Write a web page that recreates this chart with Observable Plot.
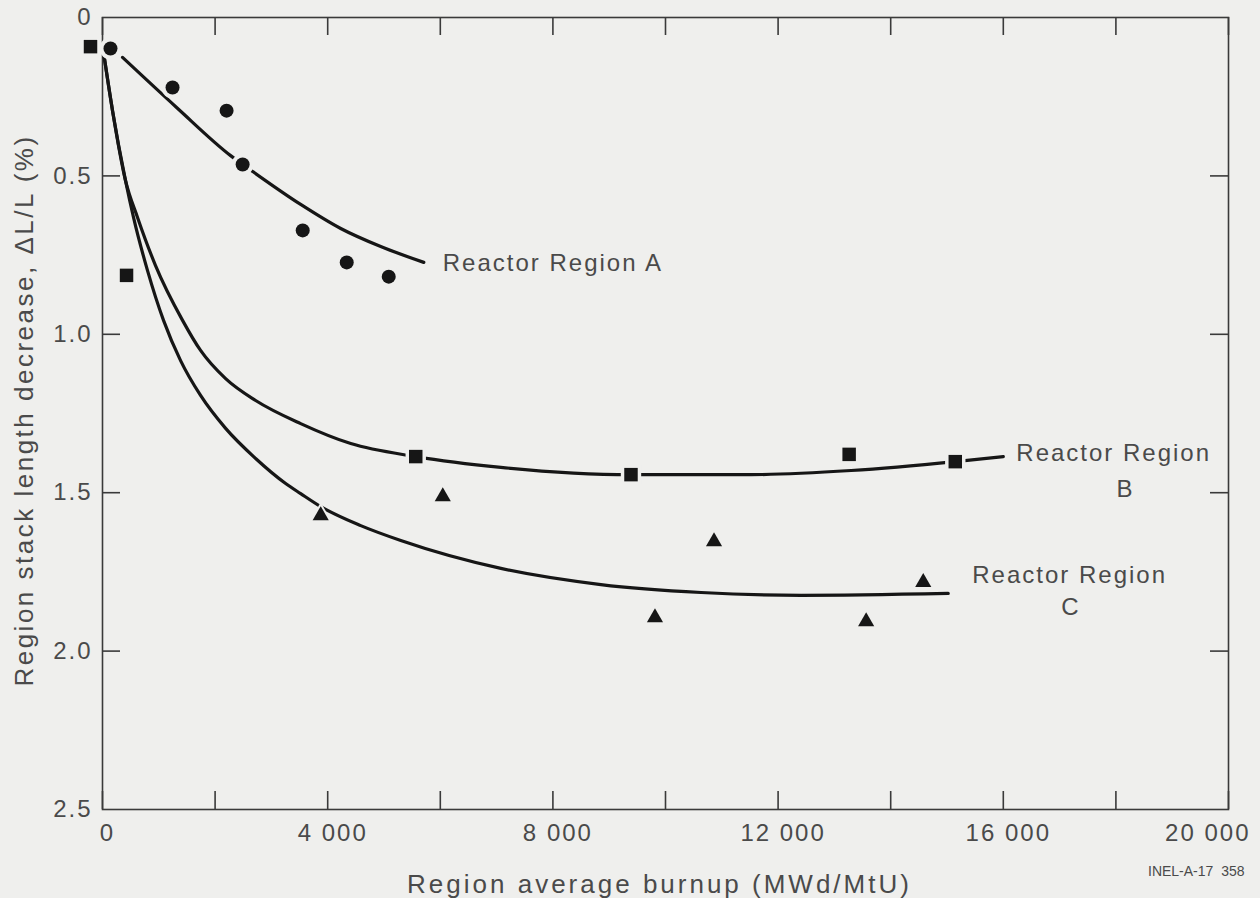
<!DOCTYPE html>
<html>
<head>
<meta charset="utf-8">
<script src="https://cdn.jsdelivr.net/npm/d3@7"></script>
<script src="https://cdn.jsdelivr.net/npm/@observablehq/plot@0.6"></script>
<style>
  html, body { margin: 0; padding: 0; background: #efefed; }
  #chart { width: 1260px; height: 898px; overflow: hidden; }
</style>
</head>
<body>
<div id="chart"></div>
<script>
// ---------- data ----------
const xTickValues = [0, 2000, 4000, 6000, 8000, 10000, 12000, 14000, 16000, 18000, 20000];
const xLabelValues = [0, 4000, 8000, 12000, 16000];
const xLabelTexts = ["0", "4 000", "8 000", "12 000", "16 000"];
const xLastLabelValue = 20000;
const xLastLabelText = "20 000";
const yTickValues = [0.5, 1.0, 1.5, 2.0];
const yLabelValues = [0, 0.5, 1.0, 1.5, 2.0, 2.5];
const yLabelTexts = ["0", "0.5", "1.0", "1.5", "2.0", "2.5"];

// measured points
const regionAX = [142, 1244, 2204, 2489, 3556, 4338, 5084];
const regionAY = [0.098, 0.221, 0.294, 0.464, 0.672, 0.773, 0.818];
const regionBX = [-213, 427, 5564, 9387, 13262, 15147];
const regionBY = [0.092, 0.814, 1.386, 1.443, 1.379, 1.402];
const regionCX = [3876, 6044, 9813, 10862, 13564, 14578];
const regionCY = [1.572, 1.512, 1.894, 1.654, 1.907, 1.783];

// fitted curves
const fitAX = [356, 1316, 2276, 2667, 3520, 4231, 4942, 5707];
const fitAY = [0.126, 0.284, 0.436, 0.486, 0.590, 0.666, 0.723, 0.773];
const fitBX = [18, 178, 409, 622, 942, 1422, 1742, 2187, 2720, 3520, 4409, 5564, 7076, 9387, 11520, 13298, 15147, 16000];
const fitBY = [0.110, 0.294, 0.515, 0.631, 0.783, 0.956, 1.051, 1.140, 1.209, 1.282, 1.345, 1.386, 1.420, 1.443, 1.443, 1.430, 1.402, 1.386];
const fitCX = [18, 178, 409, 551, 800, 1084, 1387, 1742, 2187, 2720, 3253, 3520, 3876, 4587, 5298, 7076, 8853, 10631, 12409, 15022];
const fitCY = [0.110, 0.294, 0.515, 0.631, 0.799, 0.956, 1.083, 1.193, 1.297, 1.392, 1.471, 1.503, 1.544, 1.604, 1.651, 1.739, 1.790, 1.815, 1.824, 1.818];

// curve labels
const labelTexts = ["Reactor Region A", "Reactor Region", "B", "Reactor Region", "C"];
const labelX = [6044, 16231, 18009, 15449, 17031];
const labelY = [0.777, 1.376, 1.490, 1.761, 1.862];

const xTitle = "Region average burnup (MWd/MtU)";
const yTitle = "Region stack length decrease, \u0394L/L (%)";
const caption = "INEL-A-17  358";

// ---------- tables ----------
const zip = (xs, ys) => xs.map((x, i) => ({x, y: ys[i]}));
const ptsA = zip(regionAX, regionAY);
const ptsB = zip(regionBX, regionBY);
const ptsC = zip(regionCX, regionCY);
const lineA = zip(fitAX, fitAY);
const lineB = zip(fitBX, fitBY);
const lineC = zip(fitCX, fitCY);
const labels = labelTexts.map((t, i) => ({t, x: labelX[i], y: labelY[i]}));

// ---------- styles ----------
const bg = "#efefed";
const ink = "#161616";
const axisInk = "#3a3a3a";
const textInk = "#4a4a4a";
const tickLen = 18;
const frameW = 1260 - 102 - 32;
const frameH = 898 - 17 - 89;

const chart = Plot.plot({
  width: 1260,
  height: 898,
  marginLeft: 102,
  marginRight: 32,
  marginTop: 17,
  marginBottom: 89,
  style: {
    background: bg,
    fontFamily: "'Liberation Sans', Arial, Helvetica, sans-serif",
    fontSize: "24px",
    letterSpacing: "2px",
    color: textInk
  },
  x: {domain: [0, 20000]},
  y: {domain: [0, 2.5], reverse: true},
  marks: [
    Plot.frame({stroke: axisInk, strokeWidth: 1.6}),
    // inward ticks on all four sides
    Plot.tickX(xTickValues, {x: d => d, insetTop: frameH - tickLen, stroke: axisInk, strokeWidth: 1.6}),
    Plot.tickX(xTickValues, {x: d => d, insetBottom: frameH - tickLen, stroke: axisInk, strokeWidth: 1.6}),
    Plot.tickY(yTickValues, {y: d => d, insetRight: frameW - tickLen, stroke: axisInk, strokeWidth: 1.6}),
    Plot.tickY(yTickValues, {y: d => d, insetLeft: frameW - tickLen, stroke: axisInk, strokeWidth: 1.6}),
    // tick labels
    Plot.axisX(xLabelValues, {
      tickSize: 0, tickPadding: 14, dx: 5,
      tickFormat: d => xLabelTexts[xLabelValues.indexOf(d)],
      fill: textInk, label: null
    }),
    Plot.text([xLastLabelValue], {
      x: d => d, frameAnchor: "bottom", textAnchor: "end", lineAnchor: "top",
      text: () => xLastLabelText, dx: 22, dy: 14, fill: textInk
    }),
    Plot.axisY(yLabelValues, {
      tickSize: 0, tickPadding: 10,
      tickFormat: d => yLabelTexts[yLabelValues.indexOf(d)],
      fill: textInk, label: null
    }),
    // axis titles
    Plot.text([xTitle], {
      frameAnchor: "bottom", textAnchor: "middle", text: d => d, dx: -6, dy: 83,
      fontSize: 26, fill: textInk
    }),
    Plot.text([yTitle], {
      frameAnchor: "left", textAnchor: "middle", lineAnchor: "middle", text: d => d,
      rotate: -90, dx: -78, dy: -3,
      fontSize: 26, fill: textInk
    }),
    // fitted curves
    Plot.line(lineA, {x: "x", y: "y", curve: "monotone-x", stroke: ink, strokeWidth: 3.2}),
    Plot.line(lineB, {x: "x", y: "y", curve: "monotone-x", stroke: ink, strokeWidth: 3.2}),
    Plot.line(lineC, {x: "x", y: "y", curve: "monotone-x", stroke: ink, strokeWidth: 3.2}),
    // halos that break the curves around markers
    Plot.dot(ptsA, {x: "x", y: "y", r: 11, fill: bg}),
    Plot.dot(ptsB, {x: "x", y: "y", symbol: "square", r: 11.5, fill: bg}),
    Plot.dot(ptsC, {x: "x", y: "y", symbol: "triangle", r: 8.5, fill: bg}),
    // markers
    Plot.dot(ptsA, {x: "x", y: "y", r: 7, fill: ink}),
    Plot.dot(ptsB, {x: "x", y: "y", symbol: "square", r: 7.6, fill: ink}),
    Plot.dot(ptsC, {x: "x", y: "y", symbol: "triangle", r: 6, fill: ink}),
    // curve labels
    Plot.text(labels, {x: "x", y: "y", text: "t", textAnchor: "start", fill: textInk}),
    // figure id
    Plot.text([caption], {
      frameAnchor: "bottom-right", textAnchor: "end", text: d => d,
      dx: 16, dy: 66, fontSize: 14, fill: textInk
    })
  ]
});

// per-text letter spacing
const spacing = new Map([[xTitle, "3px"], [yTitle, "2.5px"], [caption, "0px"]]);
chart.querySelectorAll("text").forEach(t => {
  const s = spacing.get(t.textContent);
  if (s) t.style.letterSpacing = s;
});

document.getElementById("chart").appendChild(chart);
</script>
</body>
</html>
